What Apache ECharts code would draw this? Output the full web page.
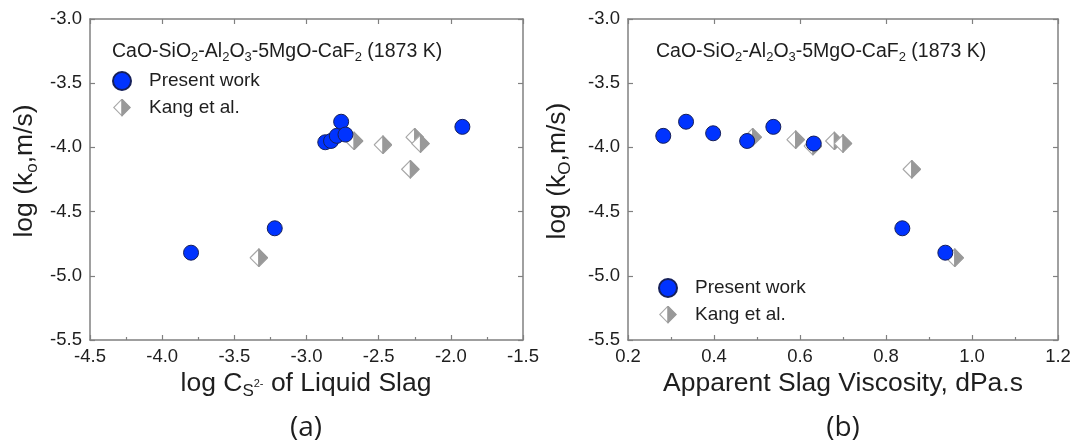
<!DOCTYPE html>
<html>
<head>
<meta charset="utf-8">
<script src="https://cdn.jsdelivr.net/npm/echarts@6/dist/echarts.min.js"></script>
<style>
  html, body { margin: 0; padding: 0; background: #fff; }
  #chart { width: 1075px; height: 447px; }
</style>
</head>
<body>
<div id="chart"></div>
<script>
// (a) log k_o versus log sulfide capacity
const csLogPresent = [-3.80, -3.22, -2.87, -2.83, -2.79, -2.76, -2.73, -1.92];
const koPresentA   = [-4.82, -4.63, -3.96, -3.95, -3.91, -3.80, -3.90, -3.84];
const csLogKang    = [-3.33, -2.67, -2.47, -2.25, -2.21, -2.28];
const koKangA      = [-4.86, -3.95, -3.98, -3.92, -3.97, -4.17];

// (b) log k_o versus apparent slag viscosity
const viscPresent = [0.282, 0.335, 0.398, 0.477, 0.538, 0.632, 0.838, 0.938];
const koPresentB  = [-3.91, -3.80, -3.89, -3.95, -3.84, -3.97, -4.63, -4.82];
const viscKang    = [0.49, 0.59, 0.63, 0.68, 0.70, 0.86, 0.96];
const koKangB     = [-3.92, -3.94, -3.99, -3.95, -3.97, -4.17, -4.86];

// axis ranges and tick steps
const yRange = { min: -5.5, max: -3.0, step: 0.5 };
const xRangeA = { min: -4.5, max: -1.5, step: 0.5 };
const xRangeB = { min: 0.2, max: 1.2, step: 0.2 };

const seriesNames = ['Present work', 'Kang et al.'];

const pairs = (xs, ys) => xs.map((x, i) => [x, ys[i]]);

// half-filled diamond marker
const diamondSvg =
  "<svg xmlns='http://www.w3.org/2000/svg' width='40' height='40' viewBox='0 0 40 40'>" +
  "<polygon points='20,1.5 1.5,20 20,38.5' fill='#ffffff' stroke='#a8a8a8' stroke-width='2.5'/>" +
  "<polygon points='20,1.5 38.5,20 20,38.5' fill='#999999' stroke='#999999' stroke-width='2.5'/>" +
  "</svg>";
const diamondSymbol = 'image://data:image/svg+xml;charset=utf-8,' + encodeURIComponent(diamondSvg);

const FONT = "'Liberation Sans', Arial, sans-serif";
const AXIS_GRAY = '#808080';
const TEXT = '#1e1e1e';

function xAxisPair(grid, r) {
  const common = {
    type: 'value', gridIndex: grid, min: r.min, max: r.max, interval: r.step,
    splitLine: { show: false },
    axisLine: { show: true, onZero: false, lineStyle: { color: AXIS_GRAY, width: 1.5 } },
    axisTick: { show: true, inside: true, length: 5, lineStyle: { color: AXIS_GRAY, width: 1.2 } }
  };
  return [
    Object.assign({}, common, {
      position: 'bottom',
      minorTick: { show: true, splitNumber: 2, length: 3, lineStyle: { color: AXIS_GRAY, width: 1.2 } },
      axisLabel: {
        show: true, margin: 7, color: TEXT, fontSize: 18.5, fontFamily: FONT,
        showMinLabel: true, showMaxLabel: true,
        formatter: v => v.toFixed(1)
      }
    }),
    Object.assign({}, common, { position: 'top', axisLabel: { show: false } })
  ];
}

function yAxisPair(grid) {
  const common = {
    type: 'value', gridIndex: grid, min: yRange.min, max: yRange.max, interval: yRange.step,
    splitLine: { show: false },
    axisLine: { show: true, onZero: false, lineStyle: { color: AXIS_GRAY, width: 1.5 } },
    axisTick: { show: true, inside: true, length: 5, lineStyle: { color: AXIS_GRAY, width: 1.2 } }
  };
  return [
    Object.assign({}, common, {
      position: 'left',
      axisLabel: {
        show: true, margin: 8, color: TEXT, fontSize: 18.5, fontFamily: FONT,
        showMinLabel: true, showMaxLabel: true,
        formatter: v => v.toFixed(1)
      }
    }),
    Object.assign({}, common, { position: 'right', axisLabel: { show: false } })
  ];
}

function presentSeries(xi, yi, data) {
  return {
    name: seriesNames[0], type: 'scatter', xAxisIndex: xi, yAxisIndex: yi,
    symbol: 'circle', symbolSize: 15, z: 3,
    itemStyle: { color: '#0033ff', borderColor: '#16205a', borderWidth: 1, opacity: 1 },
    data: data
  };
}
function kangSeries(xi, yi, data) {
  return {
    name: seriesNames[1], type: 'scatter', xAxisIndex: xi, yAxisIndex: yi,
    symbol: diamondSymbol, symbolSize: 19, z: 2,
    itemStyle: { opacity: 1 },
    data: data
  };
}

function legendAt(left, top) {
  return {
    orient: 'vertical', left: left, top: top, padding: 0,
    itemWidth: 44, itemHeight: 18, itemGap: 7, selectedMode: false,
    textStyle: { fontSize: 19, fontFamily: FONT, color: TEXT },
    data: [
      { name: seriesNames[0], icon: 'circle' },
      { name: seriesNames[1], icon: diamondSymbol }
    ]
  };
}

const subRich = {
  sub: { fontSize: 13, lineHeight: 13, verticalAlign: 'bottom', fontFamily: FONT, fill: TEXT }
};
const systemLabel = 'CaO-SiO{sub|2}-Al{sub|2}O{sub|3}-5MgO-CaF{sub|2} (1873 K)';

function systemText(x) {
  return {
    type: 'text', x: x, y: 52,
    style: {
      text: systemLabel, fontSize: 19.5, lineHeight: 24, fontFamily: FONT, fill: TEXT,
      align: 'left', verticalAlign: 'middle', rich: subRich
    }
  };
}

function yTitle(x, subLetter) {
  return {
    type: 'text', x: x, y: 171, rotation: Math.PI / 2,
    style: {
      text: 'log (k{sub|' + subLetter + '},m/s)', fontSize: 26.5, lineHeight: 32,
      fontFamily: FONT, fill: TEXT, align: 'center', verticalAlign: 'middle',
      rich: { sub: { fontSize: 17, lineHeight: 17, verticalAlign: 'bottom', fontFamily: FONT, fill: TEXT } }
    }
  };
}

function xTitle(x, text, rich) {
  return {
    type: 'text', x: x, y: 384,
    style: {
      text: text, fontSize: 26.5, lineHeight: 32, fontFamily: FONT, fill: TEXT,
      align: 'center', verticalAlign: 'middle', rich: rich || {}
    }
  };
}

function panelTag(x, tag) {
  return {
    type: 'text', x: x, y: 428,
    style: {
      text: tag, fontSize: 28, fontFamily: "'Open Sans', 'Noto Sans', sans-serif", fill: TEXT,
      align: 'center', verticalAlign: 'middle'
    }
  };
}

const xA = xAxisPair(0, xRangeA);
const xB = xAxisPair(1, xRangeB);
const yA = yAxisPair(0);
const yB = yAxisPair(1);

const option = {
  backgroundColor: '#ffffff',
  animation: false,
  grid: [
    { left: 90, top: 19, width: 433, height: 321 },
    { left: 628, top: 19, width: 430, height: 321 }
  ],
  xAxis: [xA[0], xA[1], xB[0], xB[1]],
  yAxis: [yA[0], yA[1], yB[0], yB[1]],
  legend: [legendAt(100, 71), legendAt(646, 278)],
  series: [
    kangSeries(0, 0, pairs(csLogKang, koKangA)),
    presentSeries(0, 0, pairs(csLogPresent, koPresentA)),
    kangSeries(2, 2, pairs(viscKang, koKangB)),
    presentSeries(2, 2, pairs(viscPresent, koPresentB))
  ],
  graphic: [
    systemText(112),
    systemText(656),
    yTitle(25, 'o'),
    yTitle(558, 'O'),
    xTitle(306, 'log C{s|S}{sup|2-} of Liquid Slag', {
      s: { fontSize: 17, lineHeight: 17, verticalAlign: 'bottom', fontFamily: FONT, fill: TEXT },
      sup: { fontSize: 11, lineHeight: 11, verticalAlign: 'middle', fontFamily: FONT, fill: TEXT }
    }),
    xTitle(843, 'Apparent Slag Viscosity, dPa.s'),
    panelTag(306, '(a)'),
    panelTag(843, '(b)')
  ]
};

const chart = echarts.init(document.getElementById('chart'), null, { renderer: 'canvas' });
chart.setOption(option);
</script>
</body>
</html>
